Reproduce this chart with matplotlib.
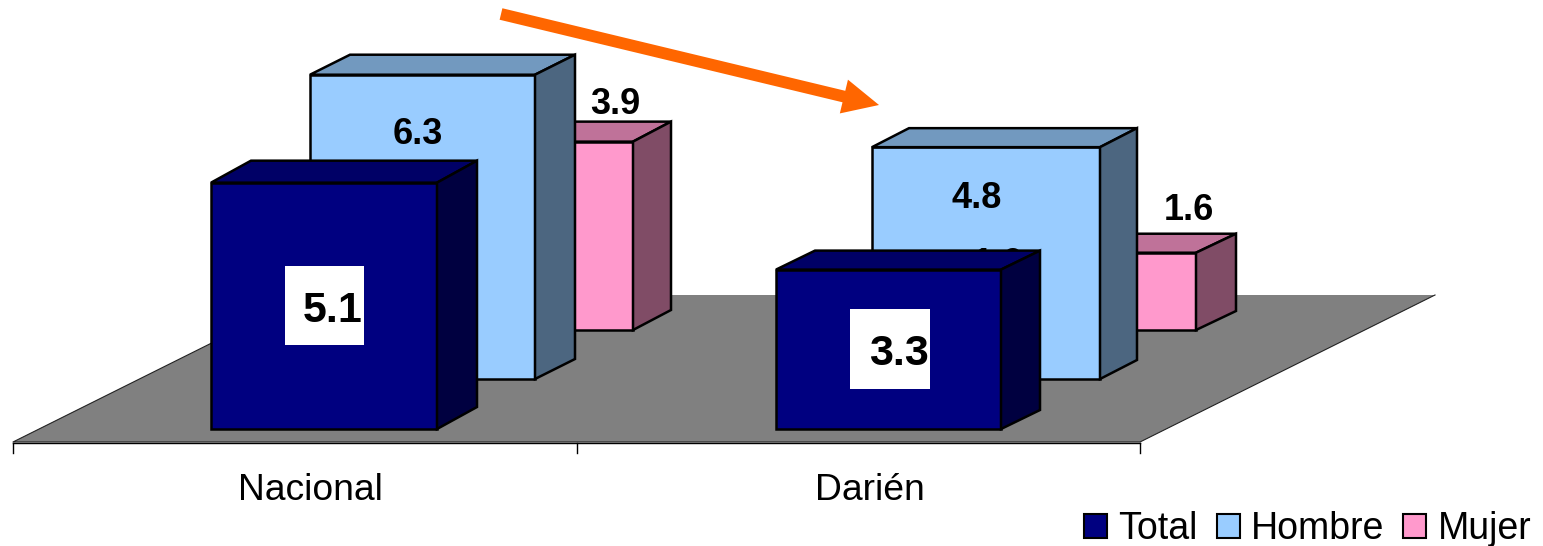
import matplotlib
matplotlib.use('Agg')
import matplotlib.pyplot as plt
from matplotlib.patches import Patch

plt.rcParams['font.family'] = ['Liberation Sans', 'DejaVu Sans']

grupos = ['Nacional', 'Darién']
series = ['Total', 'Hombre', 'Mujer']
total = [5.1, 3.3]
hombre = [6.3, 4.8]
mujer = [3.9, 1.6]

# colores: frente, arriba, lado
col_total = ['#000080', '#000066', '#000040']
col_hombre = ['#99CCFF', '#7299BF', '#4C6680']
col_mujer = ['#FF99CC', '#BF7299', '#804C66']

# escala: 48.3 pixeles por unidad, el cero de Total cae en y=429
esc = 48.3
def py(p):
    return (429 - p) / esc

fig = plt.figure(figsize=(15.43, 5.46), dpi=100)
ax = fig.add_axes([0, 0, 1, 1])
ax.set_xlim(0, 1543)
ax.set_ylim(py(546), py(0))
ax.axis('off')


def caja(x0, ancho, base, valor, dx, dy, cols):
    y0 = py(base)
    y1 = y0 + valor
    d = dy / esc
    x1 = x0 + ancho
    kw = dict(edgecolor='black', linewidth=1.8, joinstyle='miter')
    ax.bar(x0, valor, ancho, bottom=y0, align='edge', color=cols[0], **kw)
    ax.fill([x0, x1, x1 + dx, x0 + dx], [y1, y1, y1 + d, y1 + d], facecolor=cols[1], **kw)
    ax.fill([x1, x1 + dx, x1 + dx, x1], [y0, y0 + d, y1 + d, y1], facecolor=cols[2], **kw)


def etiqueta(x, p, s, size=26, **kw):
    # zorder 1 para que las cajas dibujadas despues la tapen
    ax.text(x, py(p + 3), s, ha='center', va='center', fontsize=size, fontweight='bold',
            color='black', zorder=1, **kw)


# piso
ax.fill([13, 1140, 1435, 308], [py(442), py(442), py(295), py(295)], facecolor='#808080', edgecolor='none')
ax.plot([308, 13, 1140, 1435], [py(295), py(442), py(442), py(295)], color='#222222', lw=0.8, zorder=1)

# eje
ax.plot([13, 1140], [py(443), py(443)], color='black', lw=1, zorder=1)
for xt in [13, 577, 1140]:
    ax.plot([xt, xt], [py(443), py(453)], color='black', lw=1, zorder=1)
ax.text(310, py(490), grupos[0], ha='center', va='center', fontsize=26.8)
ax.text(870, py(490), grupos[1], ha='center', va='center', fontsize=26.8)

# Nacional
caja(408, 225, 330, mujer[0], 38, 20, col_mujer)
caja(310, 225, 379, hombre[0], 40, 20, col_hombre)
caja(211, 226, 429, total[0], 40, 22, col_total)

# Darien
caja(971, 225, 330, mujer[1], 40, 19, col_mujer)
caja(872, 228, 379, hombre[1], 37, 19, col_hombre)
etiqueta(998, 261, '1.6')
caja(776, 225, 429, total[1], 39, 19, col_total)

# etiquetas de valores
etiqueta(418, 132, f'{hombre[0]}')
etiqueta(615, 101, f'{mujer[0]}')
etiqueta(977, 195, f'{hombre[1]}')
etiqueta(1189, 207, f'{mujer[1]}')

ax.fill([285, 364, 364, 285], [py(266), py(266), py(345), py(345)], facecolor='white', edgecolor='none')
ax.fill([850, 930, 930, 850], [py(309), py(309), py(389), py(389)], facecolor='white', edgecolor='none')
etiqueta(333, 308, f'{total[0]}', size=31)
etiqueta(899, 351, f'{total[1]}', size=31)

# flecha
ax.annotate('', xy=(879, py(105)), xytext=(501, py(14)),
            arrowprops=dict(width=8.5, headwidth=25, headlength=26, shrink=0, facecolor='#FF6600', edgecolor='none'))

handles = [Patch(facecolor=c[0], edgecolor='black', linewidth=1.5)
           for c in [col_total, col_hombre, col_mujer]]
ax.legend(handles, series, ncol=3, frameon=False, fontsize=27, loc='lower right',
          bbox_to_anchor=(1535 / 1543, -5 / 546), borderpad=0, borderaxespad=0.1,
          handlelength=0.62, handleheight=0.62, handletextpad=0.3, columnspacing=0.5, labelspacing=0)

fig.savefig('out.png', dpi=100)
